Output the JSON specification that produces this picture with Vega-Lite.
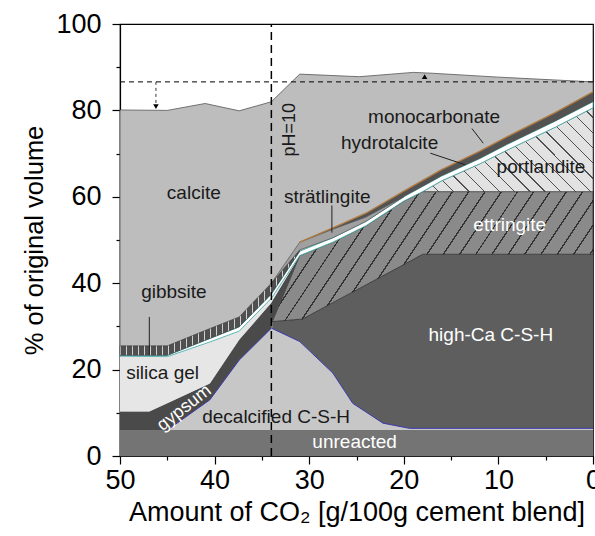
{
  "$schema": "https://vega.github.io/schema/vega-lite/v6.json",
  "width": 473,
  "height": 432,
  "autosize": {"type": "none"},
  "padding": {"left": 120, "top": 24, "right": 2, "bottom": 80},
  "background": "white",
  "config": {
    "view": {"stroke": "black", "strokeWidth": 1.2},
    "font": "Liberation Sans",
    "axis": {
      "grid": false, "domainColor": "black", "domainWidth": 1.2, "tickColor": "black", "tickWidth": 1.2,
      "labelColor": "black", "titleColor": "black", "labelFont": "Liberation Sans", "titleFont": "Liberation Sans",
      "labelFontSize": 27, "titleFontSize": 25, "titleFontWeight": "normal", "labelOverlap": false, "labelFlush": false
    },
    "text": {"font": "Liberation Sans"}
  },
  "datasets": {
    "phases": [
      {"p": "calcite", "x": 50, "y2": 0, "y": 80.1},
      {"p": "calcite", "x": 45, "y2": 0, "y": 80},
      {"p": "calcite", "x": 41, "y2": 0, "y": 81.6},
      {"p": "calcite", "x": 37.4, "y2": 0, "y": 79.9},
      {"p": "calcite", "x": 34, "y2": 0, "y": 82},
      {"p": "calcite", "x": 31, "y2": 0, "y": 88.4},
      {"p": "calcite", "x": 24.7, "y2": 0, "y": 87.8},
      {"p": "calcite", "x": 19, "y2": 0, "y": 88.8},
      {"p": "calcite", "x": 17, "y2": 0, "y": 88.6},
      {"p": "calcite", "x": 10, "y2": 0, "y": 87.7},
      {"p": "calcite", "x": 0, "y2": 0, "y": 86.6},

      {"p": "unreacted", "x": 50, "y2": 0, "y": 6},
      {"p": "unreacted", "x": 0, "y2": 0, "y": 6},

      {"p": "decalcified", "x": 45, "y2": 6, "y": 6},
      {"p": "decalcified", "x": 40.5, "y2": 6, "y": 13},
      {"p": "decalcified", "x": 37.4, "y2": 6, "y": 22.2},
      {"p": "decalcified", "x": 34, "y2": 6, "y": 29.6},
      {"p": "decalcified", "x": 31, "y2": 6, "y": 26.5},
      {"p": "decalcified", "x": 27.5, "y2": 6, "y": 19.2},
      {"p": "decalcified", "x": 25.4, "y2": 6, "y": 12.2},
      {"p": "decalcified", "x": 22.2, "y2": 6, "y": 7.6},
      {"p": "decalcified", "x": 19.4, "y2": 6, "y": 6.4},
      {"p": "decalcified", "x": 0, "y2": 6, "y": 6.4},

      {"p": "highCa", "x": 33.9, "y2": 29.5, "y": 31.1},
      {"p": "highCa", "x": 31, "y2": 26.5, "y": 31.65},
      {"p": "highCa", "x": 30.7, "y2": 25.9, "y": 31.7},
      {"p": "highCa", "x": 27.5, "y2": 19.2, "y": 35.5},
      {"p": "highCa", "x": 25.4, "y2": 12.2, "y": 37.95},
      {"p": "highCa", "x": 22.2, "y2": 7.6, "y": 41.7},
      {"p": "highCa", "x": 19.4, "y2": 6.4, "y": 45},
      {"p": "highCa", "x": 19, "y2": 6.4, "y": 45.5},
      {"p": "highCa", "x": 18, "y2": 6.4, "y": 46.7},
      {"p": "highCa", "x": 0, "y2": 6.4, "y": 46.7},

      {"p": "ettringite", "x": 33.9, "y2": 31.1, "y": 31.1},
      {"p": "ettringite", "x": 31, "y2": 31.65, "y": 46.4},
      {"p": "ettringite", "x": 30.7, "y2": 31.7, "y": 46.67},
      {"p": "ettringite", "x": 27.5, "y2": 35.5, "y": 49.5},
      {"p": "ettringite", "x": 24, "y2": 39.6, "y": 53.3},
      {"p": "ettringite", "x": 20, "y2": 44.3, "y": 59},
      {"p": "ettringite", "x": 19, "y2": 45.5, "y": 60.1},
      {"p": "ettringite", "x": 18, "y2": 46.7, "y": 61.2},
      {"p": "ettringite", "x": 0, "y2": 46.7, "y": 61.2},

      {"p": "gypsum", "x": 50, "y2": 6, "y": 10.3},
      {"p": "gypsum", "x": 46.9, "y2": 6, "y": 10.3},
      {"p": "gypsum", "x": 45, "y2": 6, "y": 12.2},
      {"p": "gypsum", "x": 40.5, "y2": 13, "y": 16.8},
      {"p": "gypsum", "x": 37.4, "y2": 22.2, "y": 26.9},
      {"p": "gypsum", "x": 34, "y2": 29.6, "y": 35.5},
      {"p": "gypsum", "x": 33.9, "y2": 31.1, "y": 35.9},
      {"p": "gypsum", "x": 31, "y2": 46.4, "y": 46.4},

      {"p": "silica gel", "x": 50, "y2": 10.3, "y": 23.1},
      {"p": "silica gel", "x": 46.9, "y2": 10.3, "y": 23.05},
      {"p": "silica gel", "x": 45, "y2": 12.2, "y": 23},
      {"p": "silica gel", "x": 40.5, "y2": 16.8, "y": 26.4},
      {"p": "silica gel", "x": 37.4, "y2": 26.9, "y": 28.9},
      {"p": "silica gel", "x": 34, "y2": 35.5, "y": 36.5},
      {"p": "silica gel", "x": 33.9, "y2": 35.9, "y": 36.85},
      {"p": "silica gel", "x": 31, "y2": 46.4, "y": 46.4},

      {"p": "portlandite", "x": 18, "y2": 61.2, "y": 61.2},
      {"p": "portlandite", "x": 16, "y2": 61.2, "y": 63.7},
      {"p": "portlandite", "x": 12, "y2": 61.2, "y": 67.6},
      {"p": "portlandite", "x": 9, "y2": 61.2, "y": 70.9},
      {"p": "portlandite", "x": 4, "y2": 61.2, "y": 76.1},
      {"p": "portlandite", "x": 0, "y2": 61.2, "y": 80.6},

      {"p": "hydrotalcite", "x": 50, "y2": 23.1, "y": 23.3},
      {"p": "hydrotalcite", "x": 45, "y2": 23, "y": 23.3},
      {"p": "hydrotalcite", "x": 40.5, "y2": 26.4, "y": 27.2},
      {"p": "hydrotalcite", "x": 37.4, "y2": 28.9, "y": 29.9},
      {"p": "hydrotalcite", "x": 34, "y2": 36.5, "y": 37.5},
      {"p": "hydrotalcite", "x": 31, "y2": 46.4, "y": 47.4},
      {"p": "hydrotalcite", "x": 27.5, "y2": 49.5, "y": 50.5},
      {"p": "hydrotalcite", "x": 24, "y2": 53.3, "y": 54.3},
      {"p": "hydrotalcite", "x": 20, "y2": 59, "y": 60},
      {"p": "hydrotalcite", "x": 18, "y2": 61.2, "y": 62.4},
      {"p": "hydrotalcite", "x": 16, "y2": 63.7, "y": 64.8},
      {"p": "hydrotalcite", "x": 12, "y2": 67.6, "y": 68.8},
      {"p": "hydrotalcite", "x": 9, "y2": 70.9, "y": 72.2},
      {"p": "hydrotalcite", "x": 4, "y2": 76.1, "y": 77.5},
      {"p": "hydrotalcite", "x": 0, "y2": 80.6, "y": 82},

      {"p": "gibbsite", "x": 50, "y2": 23.3, "y": 25.5},
      {"p": "gibbsite", "x": 45, "y2": 23.3, "y": 25.5},
      {"p": "gibbsite", "x": 40.5, "y2": 27.2, "y": 29.5},
      {"p": "gibbsite", "x": 37.4, "y2": 29.9, "y": 32.2},
      {"p": "gibbsite", "x": 34, "y2": 37.5, "y": 40},
      {"p": "gibbsite", "x": 31, "y2": 47.4, "y": 47.7},

      {"p": "stratlingite", "x": 34, "y2": 40, "y": 40},
      {"p": "stratlingite", "x": 31, "y2": 47.7, "y": 49.5},
      {"p": "stratlingite", "x": 27.5, "y2": 50.5, "y": 52.5},
      {"p": "stratlingite", "x": 24, "y2": 54.3, "y": 55.3},
      {"p": "stratlingite", "x": 20, "y2": 60, "y": 60},

      {"p": "monocarbonate", "x": 31, "y2": 49.5, "y": 49.5},
      {"p": "monocarbonate", "x": 27.5, "y2": 52.5, "y": 52.8},
      {"p": "monocarbonate", "x": 24, "y2": 55.3, "y": 56.2},
      {"p": "monocarbonate", "x": 20, "y2": 60, "y": 61.3},
      {"p": "monocarbonate", "x": 18, "y2": 62.4, "y": 63.8},
      {"p": "monocarbonate", "x": 16, "y2": 64.8, "y": 66.3},
      {"p": "monocarbonate", "x": 12, "y2": 68.8, "y": 70.5},
      {"p": "monocarbonate", "x": 9, "y2": 72.2, "y": 74},
      {"p": "monocarbonate", "x": 4, "y2": 77.5, "y": 79.5},
      {"p": "monocarbonate", "x": 0, "y2": 82, "y": 84.3}
    ],
    "darkLabels": [
      {"t": "calcite", "x": 42.2, "y": 60.8},
      {"t": "monocarbonate", "x": 16.8, "y": 78.5},
      {"t": "hydrotalcite", "x": 21.5, "y": 72.4},
      {"t": "portlandite", "x": 5.5, "y": 67.0},
      {"t": "strätlingite", "x": 28.1, "y": 60.0},
      {"t": "gibbsite", "x": 44.3, "y": 38.0},
      {"t": "silica gel", "x": 45.5, "y": 19.2},
      {"t": "decalcified C-S-H", "x": 33.5, "y": 9.1}
    ],
    "whiteLabels": [
      {"t": "ettringite", "x": 8.8, "y": 53.5},
      {"t": "high-Ca C-S-H", "x": 10.8, "y": 28.0},
      {"t": "unreacted", "x": 25.2, "y": 3.3}
    ],
    "leaders": [
      {"x": 46.9, "y": 32.2, "x2": 46.9, "y2": 23.4},
      {"x": 27.6, "y": 58.0, "x2": 27.6, "y2": 51.7},
      {"x": 17.2, "y": 70.1, "x2": 13.5, "y2": 67.4},
      {"x": 12.8, "y": 75.8, "x2": 11.6, "y2": 72.4}
    ]
  },
  "encoding": {
    "x": {"field": "x", "type": "quantitative", "scale": {"domain": [50, 0], "nice": false, "zero": false},
      "axis": {"values": [50, 45, 40, 35, 30, 25, 20, 15, 10, 5, 0], "labelExpr": "datum.value % 10 === 0 ? datum.label : ''",
        "tickSize": {"condition": {"test": "datum.value % 10 !== 0", "value": 4}, "value": 8},
        "labelPadding": 3, "titlePadding": 6, "titleFontSize": 27, "title": "Amount of CO₂ [g/100g cement blend]"}},
    "y": {"field": "y", "type": "quantitative", "scale": {"domain": [0, 100], "nice": false},
      "axis": {"values": [0, 10, 20, 30, 40, 50, 60, 70, 80, 90, 100], "labelExpr": "datum.value % 20 === 0 ? datum.label : ''",
        "tickSize": {"condition": {"test": "datum.value % 20 !== 0", "value": 4}, "value": 8},
        "labelPadding": 11, "titlePadding": 8, "titleFontSize": 25.5, "title": "% of original volume"}}
  },
  "layer": [
    {
      "data": {"name": "phases"},
      "layer": [
        {"transform": [{"filter": "datum.p === 'calcite'"}], "mark": {"type": "area", "fill": "#bdbdbd", "stroke": "#555", "strokeWidth": 0.8}, "encoding": {"y2": {"field": "y2"}}},
        {"transform": [{"filter": "datum.p === 'unreacted'"}], "mark": {"type": "area", "fill": "#747474"}, "encoding": {"y2": {"field": "y2"}}},
        {"transform": [{"filter": "datum.p === 'decalcified'"}], "mark": {"type": "area", "fill": "#c7c7c7"}, "encoding": {"y2": {"field": "y2"}}},
        {"transform": [{"filter": "datum.p === 'highCa'"}], "mark": {"type": "area", "fill": "#5e5e5e"}, "encoding": {"y2": {"field": "y2"}}},
        {"transform": [{"filter": "datum.p === 'ettringite'"}], "mark": {"type": "area", "stroke": "#222", "strokeWidth": 0.7,
          "fill": {"gradient": "linear", "x1": 0, "y1": 0, "x2": 1.184, "y2": 0.32, "stops": [
            {"offset": 0, "color": "#333333"}, {"offset": 0.004, "color": "#333333"}, {"offset": 0.004, "color": "#8a8a8a"}, {"offset": 0.04, "color": "#8a8a8a"},
            {"offset": 0.04, "color": "#333333"}, {"offset": 0.044, "color": "#333333"}, {"offset": 0.044, "color": "#8a8a8a"}, {"offset": 0.08, "color": "#8a8a8a"},
            {"offset": 0.08, "color": "#333333"}, {"offset": 0.084, "color": "#333333"}, {"offset": 0.084, "color": "#8a8a8a"}, {"offset": 0.12, "color": "#8a8a8a"},
            {"offset": 0.12, "color": "#333333"}, {"offset": 0.124, "color": "#333333"}, {"offset": 0.124, "color": "#8a8a8a"}, {"offset": 0.16, "color": "#8a8a8a"},
            {"offset": 0.16, "color": "#333333"}, {"offset": 0.164, "color": "#333333"}, {"offset": 0.164, "color": "#8a8a8a"}, {"offset": 0.2, "color": "#8a8a8a"},
            {"offset": 0.2, "color": "#333333"}, {"offset": 0.204, "color": "#333333"}, {"offset": 0.204, "color": "#8a8a8a"}, {"offset": 0.24, "color": "#8a8a8a"},
            {"offset": 0.24, "color": "#333333"}, {"offset": 0.244, "color": "#333333"}, {"offset": 0.244, "color": "#8a8a8a"}, {"offset": 0.28, "color": "#8a8a8a"},
            {"offset": 0.28, "color": "#333333"}, {"offset": 0.284, "color": "#333333"}, {"offset": 0.284, "color": "#8a8a8a"}, {"offset": 0.32, "color": "#8a8a8a"},
            {"offset": 0.32, "color": "#333333"}, {"offset": 0.324, "color": "#333333"}, {"offset": 0.324, "color": "#8a8a8a"}, {"offset": 0.36, "color": "#8a8a8a"},
            {"offset": 0.36, "color": "#333333"}, {"offset": 0.364, "color": "#333333"}, {"offset": 0.364, "color": "#8a8a8a"}, {"offset": 0.4, "color": "#8a8a8a"},
            {"offset": 0.4, "color": "#333333"}, {"offset": 0.404, "color": "#333333"}, {"offset": 0.404, "color": "#8a8a8a"}, {"offset": 0.44, "color": "#8a8a8a"},
            {"offset": 0.44, "color": "#333333"}, {"offset": 0.444, "color": "#333333"}, {"offset": 0.444, "color": "#8a8a8a"}, {"offset": 0.48, "color": "#8a8a8a"},
            {"offset": 0.48, "color": "#333333"}, {"offset": 0.484, "color": "#333333"}, {"offset": 0.484, "color": "#8a8a8a"}, {"offset": 0.52, "color": "#8a8a8a"},
            {"offset": 0.52, "color": "#333333"}, {"offset": 0.524, "color": "#333333"}, {"offset": 0.524, "color": "#8a8a8a"}, {"offset": 0.56, "color": "#8a8a8a"},
            {"offset": 0.56, "color": "#333333"}, {"offset": 0.564, "color": "#333333"}, {"offset": 0.564, "color": "#8a8a8a"}, {"offset": 0.6, "color": "#8a8a8a"},
            {"offset": 0.6, "color": "#333333"}, {"offset": 0.604, "color": "#333333"}, {"offset": 0.604, "color": "#8a8a8a"}, {"offset": 0.64, "color": "#8a8a8a"},
            {"offset": 0.64, "color": "#333333"}, {"offset": 0.644, "color": "#333333"}, {"offset": 0.644, "color": "#8a8a8a"}, {"offset": 0.68, "color": "#8a8a8a"},
            {"offset": 0.68, "color": "#333333"}, {"offset": 0.684, "color": "#333333"}, {"offset": 0.684, "color": "#8a8a8a"}, {"offset": 0.72, "color": "#8a8a8a"},
            {"offset": 0.72, "color": "#333333"}, {"offset": 0.724, "color": "#333333"}, {"offset": 0.724, "color": "#8a8a8a"}, {"offset": 0.76, "color": "#8a8a8a"},
            {"offset": 0.76, "color": "#333333"}, {"offset": 0.764, "color": "#333333"}, {"offset": 0.764, "color": "#8a8a8a"}, {"offset": 0.8, "color": "#8a8a8a"},
            {"offset": 0.8, "color": "#333333"}, {"offset": 0.804, "color": "#333333"}, {"offset": 0.804, "color": "#8a8a8a"}, {"offset": 0.84, "color": "#8a8a8a"},
            {"offset": 0.84, "color": "#333333"}, {"offset": 0.844, "color": "#333333"}, {"offset": 0.844, "color": "#8a8a8a"}, {"offset": 0.88, "color": "#8a8a8a"},
            {"offset": 0.88, "color": "#333333"}, {"offset": 0.884, "color": "#333333"}, {"offset": 0.884, "color": "#8a8a8a"}, {"offset": 0.92, "color": "#8a8a8a"},
            {"offset": 0.92, "color": "#333333"}, {"offset": 0.924, "color": "#333333"}, {"offset": 0.924, "color": "#8a8a8a"}, {"offset": 0.96, "color": "#8a8a8a"},
            {"offset": 0.96, "color": "#333333"}, {"offset": 0.964, "color": "#333333"}, {"offset": 0.964, "color": "#8a8a8a"}, {"offset": 1, "color": "#8a8a8a"}
          ]}}, "encoding": {"y2": {"field": "y2"}}},
        {"transform": [{"filter": "datum.p === 'gypsum'"}], "mark": {"type": "area", "fill": "#4a4a4a"}, "encoding": {"y2": {"field": "y2"}}},
        {"transform": [{"filter": "datum.p === 'silica gel'"}], "mark": {"type": "area", "fill": "#e6e6e6"}, "encoding": {"y2": {"field": "y2"}}},
        {"transform": [{"filter": "datum.p === 'portlandite'"}], "mark": {"type": "area", "stroke": "#444", "strokeWidth": 0.6,
          "fill": {"gradient": "linear", "x1": 0, "y1": 1, "x2": 1.2, "y2": 0.41, "stops": [
            {"offset": 0, "color": "#505050"}, {"offset": 0.0055, "color": "#505050"}, {"offset": 0.0055, "color": "#e2e2e2"}, {"offset": 0.06, "color": "#e2e2e2"},
            {"offset": 0.06, "color": "#505050"}, {"offset": 0.0655, "color": "#505050"}, {"offset": 0.0655, "color": "#e2e2e2"}, {"offset": 0.12, "color": "#e2e2e2"},
            {"offset": 0.12, "color": "#505050"}, {"offset": 0.1255, "color": "#505050"}, {"offset": 0.1255, "color": "#e2e2e2"}, {"offset": 0.18, "color": "#e2e2e2"},
            {"offset": 0.18, "color": "#505050"}, {"offset": 0.1855, "color": "#505050"}, {"offset": 0.1855, "color": "#e2e2e2"}, {"offset": 0.24, "color": "#e2e2e2"},
            {"offset": 0.24, "color": "#505050"}, {"offset": 0.2455, "color": "#505050"}, {"offset": 0.2455, "color": "#e2e2e2"}, {"offset": 0.3, "color": "#e2e2e2"},
            {"offset": 0.3, "color": "#505050"}, {"offset": 0.3055, "color": "#505050"}, {"offset": 0.3055, "color": "#e2e2e2"}, {"offset": 0.36, "color": "#e2e2e2"},
            {"offset": 0.36, "color": "#505050"}, {"offset": 0.3655, "color": "#505050"}, {"offset": 0.3655, "color": "#e2e2e2"}, {"offset": 0.42, "color": "#e2e2e2"},
            {"offset": 0.42, "color": "#505050"}, {"offset": 0.4255, "color": "#505050"}, {"offset": 0.4255, "color": "#e2e2e2"}, {"offset": 0.48, "color": "#e2e2e2"},
            {"offset": 0.48, "color": "#505050"}, {"offset": 0.4855, "color": "#505050"}, {"offset": 0.4855, "color": "#e2e2e2"}, {"offset": 0.54, "color": "#e2e2e2"},
            {"offset": 0.54, "color": "#505050"}, {"offset": 0.5455, "color": "#505050"}, {"offset": 0.5455, "color": "#e2e2e2"}, {"offset": 0.6, "color": "#e2e2e2"},
            {"offset": 0.6, "color": "#505050"}, {"offset": 0.6055, "color": "#505050"}, {"offset": 0.6055, "color": "#e2e2e2"}, {"offset": 0.66, "color": "#e2e2e2"},
            {"offset": 0.66, "color": "#505050"}, {"offset": 0.6655, "color": "#505050"}, {"offset": 0.6655, "color": "#e2e2e2"}, {"offset": 0.72, "color": "#e2e2e2"},
            {"offset": 0.72, "color": "#505050"}, {"offset": 0.7255, "color": "#505050"}, {"offset": 0.7255, "color": "#e2e2e2"}, {"offset": 0.78, "color": "#e2e2e2"},
            {"offset": 0.78, "color": "#505050"}, {"offset": 0.7855, "color": "#505050"}, {"offset": 0.7855, "color": "#e2e2e2"}, {"offset": 0.84, "color": "#e2e2e2"},
            {"offset": 0.84, "color": "#505050"}, {"offset": 0.8455, "color": "#505050"}, {"offset": 0.8455, "color": "#e2e2e2"}, {"offset": 0.9, "color": "#e2e2e2"},
            {"offset": 0.9, "color": "#505050"}, {"offset": 0.9055, "color": "#505050"}, {"offset": 0.9055, "color": "#e2e2e2"}, {"offset": 0.96, "color": "#e2e2e2"},
            {"offset": 0.96, "color": "#505050"}, {"offset": 0.9655, "color": "#505050"}, {"offset": 0.9655, "color": "#e2e2e2"}, {"offset": 1, "color": "#e2e2e2"}
          ]}}, "encoding": {"y2": {"field": "y2"}}},
        {"transform": [{"filter": "datum.p === 'hydrotalcite'"}], "mark": {"type": "area", "fill": "#ffffff", "stroke": "#3aa9a9", "strokeWidth": 0.8}, "encoding": {"y2": {"field": "y2"}}},
        {"transform": [{"filter": "datum.p === 'gibbsite'"}], "mark": {"type": "area", "stroke": "#333", "strokeWidth": 0.5,
          "fill": {"gradient": "linear", "x1": 0, "y1": 0, "x2": 1, "y2": 0, "stops": [
            {"offset": 0, "color": "#d0d0d0"}, {"offset": 0.008, "color": "#d0d0d0"}, {"offset": 0.008, "color": "#505050"}, {"offset": 0.0333, "color": "#505050"},
            {"offset": 0.0333, "color": "#d0d0d0"}, {"offset": 0.0413, "color": "#d0d0d0"}, {"offset": 0.0413, "color": "#505050"}, {"offset": 0.0667, "color": "#505050"},
            {"offset": 0.0667, "color": "#d0d0d0"}, {"offset": 0.0747, "color": "#d0d0d0"}, {"offset": 0.0747, "color": "#505050"}, {"offset": 0.1, "color": "#505050"},
            {"offset": 0.1, "color": "#d0d0d0"}, {"offset": 0.108, "color": "#d0d0d0"}, {"offset": 0.108, "color": "#505050"}, {"offset": 0.1333, "color": "#505050"},
            {"offset": 0.1333, "color": "#d0d0d0"}, {"offset": 0.1413, "color": "#d0d0d0"}, {"offset": 0.1413, "color": "#505050"}, {"offset": 0.1667, "color": "#505050"},
            {"offset": 0.1667, "color": "#d0d0d0"}, {"offset": 0.1747, "color": "#d0d0d0"}, {"offset": 0.1747, "color": "#505050"}, {"offset": 0.2, "color": "#505050"},
            {"offset": 0.2, "color": "#d0d0d0"}, {"offset": 0.208, "color": "#d0d0d0"}, {"offset": 0.208, "color": "#505050"}, {"offset": 0.2333, "color": "#505050"},
            {"offset": 0.2333, "color": "#d0d0d0"}, {"offset": 0.2413, "color": "#d0d0d0"}, {"offset": 0.2413, "color": "#505050"}, {"offset": 0.2667, "color": "#505050"},
            {"offset": 0.2667, "color": "#d0d0d0"}, {"offset": 0.2747, "color": "#d0d0d0"}, {"offset": 0.2747, "color": "#505050"}, {"offset": 0.3, "color": "#505050"},
            {"offset": 0.3, "color": "#d0d0d0"}, {"offset": 0.308, "color": "#d0d0d0"}, {"offset": 0.308, "color": "#505050"}, {"offset": 0.3333, "color": "#505050"},
            {"offset": 0.3333, "color": "#d0d0d0"}, {"offset": 0.3413, "color": "#d0d0d0"}, {"offset": 0.3413, "color": "#505050"}, {"offset": 0.3667, "color": "#505050"},
            {"offset": 0.3667, "color": "#d0d0d0"}, {"offset": 0.3747, "color": "#d0d0d0"}, {"offset": 0.3747, "color": "#505050"}, {"offset": 0.4, "color": "#505050"},
            {"offset": 0.4, "color": "#d0d0d0"}, {"offset": 0.408, "color": "#d0d0d0"}, {"offset": 0.408, "color": "#505050"}, {"offset": 0.4333, "color": "#505050"},
            {"offset": 0.4333, "color": "#d0d0d0"}, {"offset": 0.4413, "color": "#d0d0d0"}, {"offset": 0.4413, "color": "#505050"}, {"offset": 0.4667, "color": "#505050"},
            {"offset": 0.4667, "color": "#d0d0d0"}, {"offset": 0.4747, "color": "#d0d0d0"}, {"offset": 0.4747, "color": "#505050"}, {"offset": 0.5, "color": "#505050"},
            {"offset": 0.5, "color": "#d0d0d0"}, {"offset": 0.508, "color": "#d0d0d0"}, {"offset": 0.508, "color": "#505050"}, {"offset": 0.5333, "color": "#505050"},
            {"offset": 0.5333, "color": "#d0d0d0"}, {"offset": 0.5413, "color": "#d0d0d0"}, {"offset": 0.5413, "color": "#505050"}, {"offset": 0.5667, "color": "#505050"},
            {"offset": 0.5667, "color": "#d0d0d0"}, {"offset": 0.5747, "color": "#d0d0d0"}, {"offset": 0.5747, "color": "#505050"}, {"offset": 0.6, "color": "#505050"},
            {"offset": 0.6, "color": "#d0d0d0"}, {"offset": 0.608, "color": "#d0d0d0"}, {"offset": 0.608, "color": "#505050"}, {"offset": 0.6333, "color": "#505050"},
            {"offset": 0.6333, "color": "#d0d0d0"}, {"offset": 0.6413, "color": "#d0d0d0"}, {"offset": 0.6413, "color": "#505050"}, {"offset": 0.6667, "color": "#505050"},
            {"offset": 0.6667, "color": "#d0d0d0"}, {"offset": 0.6747, "color": "#d0d0d0"}, {"offset": 0.6747, "color": "#505050"}, {"offset": 0.7, "color": "#505050"},
            {"offset": 0.7, "color": "#d0d0d0"}, {"offset": 0.708, "color": "#d0d0d0"}, {"offset": 0.708, "color": "#505050"}, {"offset": 0.7333, "color": "#505050"},
            {"offset": 0.7333, "color": "#d0d0d0"}, {"offset": 0.7413, "color": "#d0d0d0"}, {"offset": 0.7413, "color": "#505050"}, {"offset": 0.7667, "color": "#505050"},
            {"offset": 0.7667, "color": "#d0d0d0"}, {"offset": 0.7747, "color": "#d0d0d0"}, {"offset": 0.7747, "color": "#505050"}, {"offset": 0.8, "color": "#505050"},
            {"offset": 0.8, "color": "#d0d0d0"}, {"offset": 0.808, "color": "#d0d0d0"}, {"offset": 0.808, "color": "#505050"}, {"offset": 0.8333, "color": "#505050"},
            {"offset": 0.8333, "color": "#d0d0d0"}, {"offset": 0.8413, "color": "#d0d0d0"}, {"offset": 0.8413, "color": "#505050"}, {"offset": 0.8667, "color": "#505050"},
            {"offset": 0.8667, "color": "#d0d0d0"}, {"offset": 0.8747, "color": "#d0d0d0"}, {"offset": 0.8747, "color": "#505050"}, {"offset": 0.9, "color": "#505050"},
            {"offset": 0.9, "color": "#d0d0d0"}, {"offset": 0.908, "color": "#d0d0d0"}, {"offset": 0.908, "color": "#505050"}, {"offset": 0.9333, "color": "#505050"},
            {"offset": 0.9333, "color": "#d0d0d0"}, {"offset": 0.9413, "color": "#d0d0d0"}, {"offset": 0.9413, "color": "#505050"}, {"offset": 0.9667, "color": "#505050"},
            {"offset": 0.9667, "color": "#d0d0d0"}, {"offset": 0.9747, "color": "#d0d0d0"}, {"offset": 0.9747, "color": "#505050"}, {"offset": 1, "color": "#505050"}
          ]}}, "encoding": {"y2": {"field": "y2"}}},
        {"transform": [{"filter": "datum.p === 'stratlingite'"}], "mark": {"type": "area", "fill": "#a0a0a0", "stroke": "#333", "strokeWidth": 0.5}, "encoding": {"y2": {"field": "y2"}}},
        {"transform": [{"filter": "datum.p === 'monocarbonate'"}], "mark": {"type": "area", "fill": "#525252"}, "encoding": {"y2": {"field": "y2"}}},
        {"transform": [{"filter": "datum.p === 'monocarbonate'"}], "mark": {"type": "line", "color": "#b07a40", "strokeWidth": 1.3}},
        {"transform": [{"filter": "datum.p === 'decalcified'"}], "mark": {"type": "line", "color": "#3b3bb0", "strokeWidth": 1}}
      ]
    },
    {
      "data": {"values": [{"x": 50, "y": 86.6, "x2": 0}]},
      "mark": {"type": "rule", "color": "black", "strokeWidth": 1, "strokeDash": [5, 4]},
      "encoding": {"x2": {"field": "x2"}}
    },
    {
      "data": {"values": [{"x": 34, "y": 0, "y2": 100}]},
      "mark": {"type": "rule", "color": "black", "strokeWidth": 1.5, "strokeDash": [8, 5]},
      "encoding": {"y2": {"field": "y2"}}
    },
    {
      "data": {"values": [{"x": 46.2, "y": 86.6, "y2": 81.2}]},
      "mark": {"type": "rule", "color": "black", "strokeWidth": 0.8, "strokeDash": [3, 3]},
      "encoding": {"y2": {"field": "y2"}}
    },
    {
      "data": {"values": [{"x": 46.2, "y": 80.9, "s": "triangle-down"}, {"x": 17.8, "y": 87.8, "s": "triangle-up"}]},
      "mark": {"type": "point", "filled": true, "color": "black", "size": 30, "opacity": 1},
      "encoding": {"shape": {"field": "s", "type": "nominal", "scale": null}}
    },
    {
      "data": {"name": "leaders"},
      "mark": {"type": "rule", "color": "#222", "strokeWidth": 1},
      "encoding": {"x2": {"field": "x2"}, "y2": {"field": "y2"}}
    },
    {
      "data": {"name": "darkLabels"},
      "mark": {"type": "text", "fontSize": 19, "color": "#1a1a1a", "align": "center", "baseline": "middle"},
      "encoding": {"text": {"field": "t"}}
    },
    {
      "data": {"name": "whiteLabels"},
      "mark": {"type": "text", "fontSize": 19, "color": "#ffffff", "align": "center", "baseline": "middle"},
      "encoding": {"text": {"field": "t"}}
    },
    {
      "data": {"values": [{"t": "gypsum", "x": 43.2, "y": 11.1}]},
      "mark": {"type": "text", "fontSize": 18, "color": "#ffffff", "align": "center", "baseline": "middle", "angle": 322},
      "encoding": {"text": {"field": "t"}}
    },
    {
      "data": {"values": [{"t": "pH=10", "x": 32.0, "y": 75.5}]},
      "mark": {"type": "text", "fontSize": 18, "color": "#1a1a1a", "align": "center", "baseline": "middle", "angle": 270},
      "encoding": {"text": {"field": "t"}}
    }
  ]
}
